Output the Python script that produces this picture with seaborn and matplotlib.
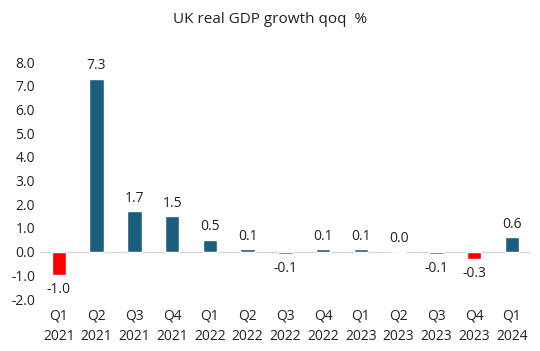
import numpy as np
import pandas as pd
import matplotlib
matplotlib.use("Agg")
import matplotlib.pyplot as plt
import seaborn as sns

quarters = ["Q1\n2021", "Q2\n2021", "Q3\n2021", "Q4\n2021", "Q1\n2022", "Q2\n2022",
            "Q3\n2022", "Q4\n2022", "Q1\n2023", "Q2\n2023", "Q3\n2023", "Q4\n2023", "Q1\n2024"]
growth = [-1.0, 7.3, 1.7, 1.5, 0.5, 0.1, -0.1, 0.1, 0.1, 0.0, -0.1, -0.3, 0.6]
y_ticks = [-2, -1, 0, 1, 2, 3, 4, 5, 6, 7, 8]

BLUE = "#1b5e80"
RED = "#ff0000"

sns.set_theme(style="white")
plt.rcParams["font.family"] = ["Open Sans", "DejaVu Sans"]

df = pd.DataFrame({"quarter": quarters, "growth": growth})
df["sign"] = np.where(df["growth"] < 0, "neg", "pos")

fig = plt.figure(figsize=(5.4, 3.51), dpi=100)
ax = fig.add_axes([0.074, 0.148, 0.909, 0.675])

sns.barplot(data=df, x="quarter", y="growth", hue="sign",
            palette={"pos": BLUE, "neg": RED}, dodge=False, legend=False,
            width=0.38, saturation=1, ax=ax)

ax.axhline(0, color="#d9d9d9", linewidth=1, zorder=0)

for i, v in enumerate(growth):
    if v < 0:
        ax.annotate(f"{v:.1f}", (i, v), xytext=(0, -5), textcoords="offset points",
                    ha="center", va="top", fontsize=10, color="#222222")
    else:
        ax.annotate(f"{v:.1f}", (i, v), xytext=(0, 4), textcoords="offset points",
                    ha="center", va="bottom", fontsize=10, color="#222222")

ax.set_ylim(-2, 8)
ax.set_xlim(-0.5, len(quarters) - 0.5)
ax.set_yticks(y_ticks)
ax.set_yticklabels([f"{t:.1f}" for t in y_ticks])
ax.tick_params(axis="both", length=0, labelsize=10, colors="#222222")
ax.tick_params(axis="x", pad=7)
for lbl in ax.get_xticklabels():
    lbl.set_linespacing(1.45)
ax.set_xlabel("")
ax.set_ylabel("")
for s in ax.spines.values():
    s.set_visible(False)

fig.text(0.5, 0.945, "UK real GDP growth qoq  %", ha="center", va="center",
         fontsize=11, color="#222222")

fig.savefig("out.png", dpi=100)
